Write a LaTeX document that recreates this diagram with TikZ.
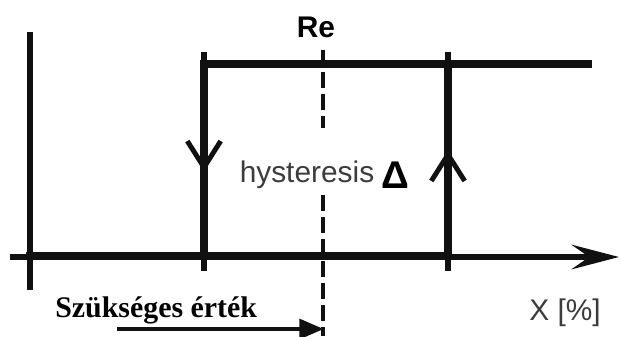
\documentclass[tikz,border=0pt]{standalone}
\usepackage{fontspec}
\setmainfont{Liberation Sans}
\newfontfamily\szfont{Liberation Serif}
\usetikzlibrary{arrows.meta,positioning}
\definecolor{ink}{HTML}{111111}
\definecolor{txt}{HTML}{3C3C3C}
\newcommand{\lblsize}{\fontsize{17}{20}\selectfont}
\tikzset{
  axis/.style={line width=2.9pt, ink},
  loop/.style={line width=4.5pt, ink, line cap=rect},
  tck/.style={line width=3pt, ink},
  refline/.style={dash pattern=on 9pt off 3.5pt, line width=2.5pt, ink},
  barb/.style={-{Straight Barb[length=15pt,width=19pt,line width=2.8pt]}, line width=2.8pt, ink},
  lbl/.style={font=\lblsize, inner sep=0pt},
}

\begin{document}
\begin{tikzpicture}[x=0.2mm,y=-0.2mm]
  \useasboundingbox (0,0) rectangle (621,336);
  % axes
  \coordinate (O) at (30,257);
  \coordinate (ytop) at (30,32);
  \coordinate (ybot) at (30,290);
  \coordinate (xbeg) at (10,257);
  \coordinate (xend) at (619,257);
  \draw[axis] (ybot)--(ytop);
  \draw[axis,-{Stealth[length=27pt,width=14pt,inset=10pt]}] (xbeg)--(xend);
  % hysteresis loop
  \coordinate (lb) at (204,256);
  \coordinate (lt) at (204,64);
  \coordinate (rb) at (448,256);
  \coordinate (rt) at (448,64);
  \coordinate (tend) at (588,64);
  \draw[tck] (204,52)--(204,271);
  \draw[tck] (448,52)--(448,271);
  \draw[loop] (O |- lb)--(rb)--(rt)--(tend);
  \draw[loop] (lt)--(rt);
  \draw[loop] (lt)--(lb);
  \draw[barb] (204,130)--(204,172);
  \draw[barb] (448,195)--(448,150);
  % set point
  \coordinate (re) at (323,50);
  \coordinate (reg1) at (323,128);
  \coordinate (reg2) at (323,195);
  \coordinate (reb) at (323,336);
  \draw[refline] (re)--(reg1);
  \draw[refline] (reg2)--(reb);
  \node[lbl,anchor=base,font=\lblsize\bfseries] (relbl) at (316,37) {Re};
  \node[lbl,anchor=base,txt] (hys) at (307,182) {hysteresis};
  \node[lbl,anchor=base,font=\fontsize{22}{24}\selectfont\bfseries] (delta) at (395,188) {Δ};
  % labels below
  \node[lbl,anchor=base west,font=\szfont\fontsize{17}{20}\selectfont\bfseries] (sz) at (55,317) {Szükséges érték};
  \node[lbl,anchor=base,txt] (xl) at (565,320) {X [\%]};
  \coordinate (pa) at (117,329);
  \coordinate (pb) at (324,329);
  \draw[line width=2.8pt,ink,-{Triangle[length=14pt,width=11pt]}] (pa)--(pb);
\end{tikzpicture}
\end{document}
